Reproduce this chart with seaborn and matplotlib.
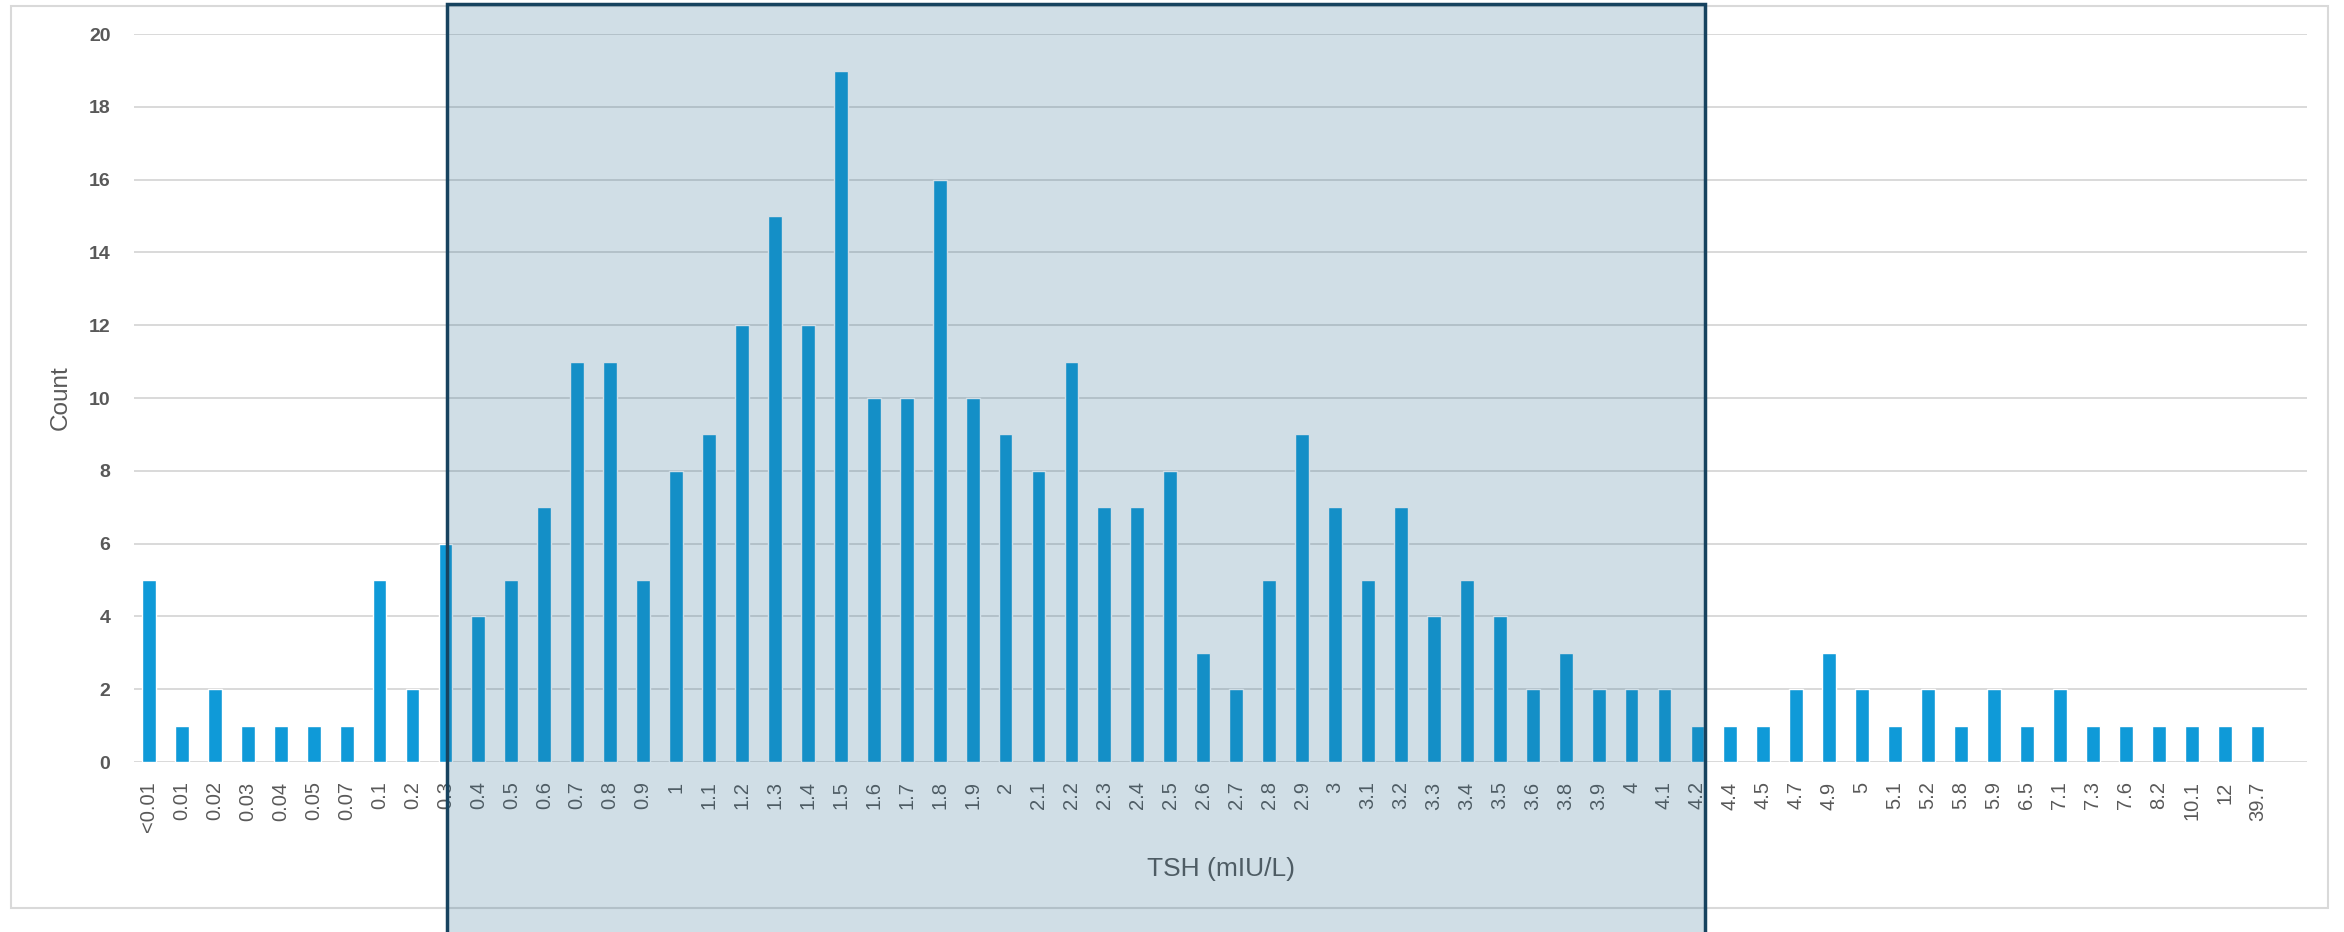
import matplotlib
matplotlib.use("Agg")
import matplotlib.pyplot as plt
import matplotlib.transforms as mtransforms
from matplotlib.patches import Rectangle
import seaborn as sns
import pandas as pd

# TSH bins and counts
tsh_labels = ["<0.01", "0.01", "0.02", "0.03", "0.04", "0.05", "0.07", "0.1", "0.2", "0.3",
              "0.4", "0.5", "0.6", "0.7", "0.8", "0.9", "1", "1.1", "1.2", "1.3",
              "1.4", "1.5", "1.6", "1.7", "1.8", "1.9", "2", "2.1", "2.2", "2.3",
              "2.4", "2.5", "2.6", "2.7", "2.8", "2.9", "3", "3.1", "3.2", "3.3",
              "3.4", "3.5", "3.6", "3.8", "3.9", "4", "4.1", "4.2", "4.4", "4.5",
              "4.7", "4.9", "5", "5.1", "5.2", "5.8", "5.9", "6.5", "7.1", "7.3",
              "7.6", "8.2", "10.1", "12", "39.7"]
counts = [5, 1, 2, 1, 1, 1, 1, 5, 2, 6,
          4, 5, 7, 11, 11, 5, 8, 9, 12, 15,
          12, 19, 10, 10, 16, 10, 9, 8, 11, 7,
          7, 8, 3, 2, 5, 9, 7, 5, 7, 4,
          5, 4, 2, 3, 2, 2, 2, 1, 1, 1,
          2, 3, 2, 1, 2, 1, 2, 1, 2, 1,
          1, 1, 1, 1, 1]
y_ticks = [0, 2, 4, 6, 8, 10, 12, 14, 16, 18, 20]

# reference range highlighted on the chart (0.3 .. 4.2)
range_start = "0.3"
range_end = "4.2"

df = pd.DataFrame({"tsh": tsh_labels, "count": counts})

sns.set_style("white")
plt.rcParams['font.family'] = ['Liberation Sans', 'DejaVu Sans']
narrow = ['Liberation Sans Narrow', 'Liberation Sans', 'DejaVu Sans']

fig = plt.figure(figsize=(23.44, 9.32), dpi=100)
ax = fig.add_axes([0.0572, 0.1824, 0.927, 0.781])

sns.barplot(data=df, x="tsh", y="count", order=tsh_labels, color="#0f9ad8",
            saturation=1, width=0.42, ax=ax, zorder=3)

ax.set_ylim(0, 20)
# Excel leaves about one empty slot after the last category
ax.set_xlim(-0.45, len(tsh_labels) + 0.5)
ax.set_yticks(y_ticks)
ax.yaxis.grid(True, color="#d9d9d9", linewidth=1.4, zorder=0)
ax.set_axisbelow(True)
for s in ax.spines.values():
    s.set_visible(False)
ax.tick_params(axis="both", length=0)
ax.tick_params(axis="y", labelsize=14, labelcolor="#595959", pad=17)
for t in ax.get_yticklabels():
    t.set_fontweight("bold")
ax.tick_params(axis="x", labelsize=14.5, labelcolor="#595959", pad=14)
plt.setp(ax.get_xticklabels(), rotation=90, family=narrow)

ax.set_xlabel("TSH (mIU/L)", fontsize=19, color="#595959", labelpad=18)
ax.set_ylabel("Count", fontsize=17.5, color="#595959", labelpad=12, family=narrow)

# light outer chart border
fig.add_artist(Rectangle((0.0045, 0.026), 0.9885, 0.968, transform=fig.transFigure,
                         fill=False, edgecolor="#d9d9d9", linewidth=1.5))

# shaded reference range, spanning from the chart top to below the figure
x0 = tsh_labels.index(range_start) + 0.05
x1 = tsh_labels.index(range_end) + 0.24
trans = mtransforms.blended_transform_factory(ax.transData, fig.transFigure)
fig.add_artist(Rectangle((x0, -0.05), x1 - x0, 1.046, transform=trans,
                         facecolor="#2a6a8f", alpha=0.22, edgecolor="none", zorder=10))
fig.add_artist(Rectangle((x0, -0.05), x1 - x0, 1.046, transform=trans,
                         fill=False, edgecolor="#17435f", linewidth=2.5, zorder=11))

fig.savefig("out.png", dpi=100)
